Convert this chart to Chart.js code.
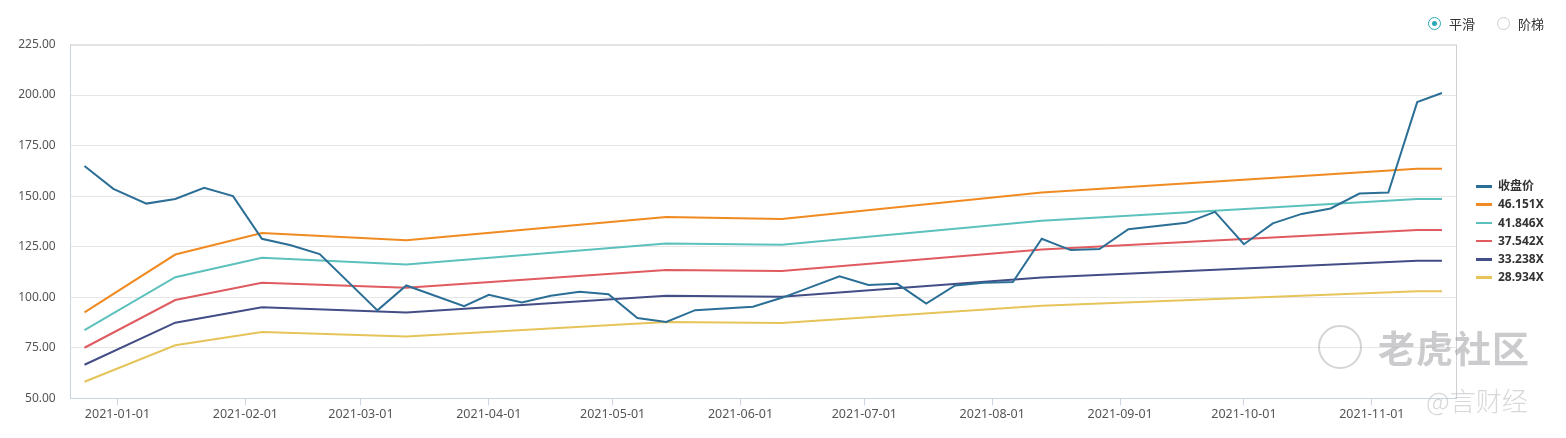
<!DOCTYPE html>
<html>
<head>
<meta charset="utf-8">
<script src="https://cdn.jsdelivr.net/npm/chart.js@4/dist/chart.umd.min.js"></script>
<style>
  html, body { margin: 0; padding: 0; background: #fff; }
  #wrap { position: relative; width: 1566px; height: 438px; overflow: hidden; font-family: "Noto Sans", "Noto Sans CJK SC", sans-serif; }
  #c { position: absolute; left: 0; top: 0; }
  .radio { position: absolute; top: 15px; font-size: 13px; color: #333; font-family: "Noto Sans CJK SC", sans-serif; line-height: 18px; }
  .radio .dot { position: absolute; top: 2px; left: 0; width: 11px; height: 11px; border-radius: 50%; border: 1.5px solid #ccc; background: #fff; }
  .radio.on .dot { border-color: #2aa8b6; }
  .radio.on .dot::after { content: ""; position: absolute; left: 3px; top: 3px; width: 5px; height: 5px; border-radius: 50%; background: #2aa8b6; }
  .radio span.t { position: absolute; left: 21px; top: 0; white-space: nowrap; }
  #legend { position: absolute; left: 1476px; top: 177px; font-family: "Noto Sans", "Noto Sans CJK SC", sans-serif; }
  #legend .row { position: relative; height: 18.3px; }
  #legend .sw { position: absolute; left: 0; top: 8px; width: 16px; height: 2.5px; }
  #legend .lb { position: absolute; left: 22px; top: 0; font-size: 12px; font-weight: bold; color: #333; white-space: nowrap; line-height: 18px; }
  .wm1 { position: absolute; left: 1378px; top: 322px; font-size: 37px; font-weight: bold; color: rgba(160,160,165,0.55); font-family: "Noto Sans CJK SC", sans-serif; letter-spacing: 1px; line-height: 50px; }
  .wmlogo { position: absolute; left: 1318px; top: 325px; width: 40px; height: 40px; border-radius: 50%; border: 2px solid rgba(170,170,175,0.5); }
  .wm2 { position: absolute; left: 1426px; top: 382px; font-size: 26px; color: rgba(190,190,195,0.6); font-family: "Noto Sans CJK SC", sans-serif; font-weight: 300; line-height: 36px; }
</style>
</head>
<body>
<div id="wrap">
  <canvas id="c" width="1566" height="438"></canvas>
  <div class="radio on" style="left:1428px;"><div class="dot"></div><span class="t">平滑</span></div>
  <div class="radio" style="left:1497px;"><div class="dot"></div><span class="t">阶梯</span></div>
  <div id="legend"></div>
  <div class="wmlogo"></div>
  <div class="wm1">老虎社区</div>
  <div class="wm2">@言财经</div>
</div>
<script>
// ---- data ----
const closeDates = ['2020-12-24','2020-12-31','2021-01-08','2021-01-15','2021-01-22','2021-01-29','2021-02-05','2021-02-12','2021-02-19','2021-03-05','2021-03-12','2021-03-26','2021-04-01','2021-04-09','2021-04-16','2021-04-23','2021-04-30','2021-05-07','2021-05-14','2021-05-21','2021-06-04','2021-06-11','2021-06-18','2021-06-25','2021-07-02','2021-07-09','2021-07-16','2021-07-23','2021-07-30','2021-08-06','2021-08-13','2021-08-20','2021-08-27','2021-09-03','2021-09-17','2021-09-24','2021-10-01','2021-10-08','2021-10-15','2021-10-22','2021-10-29','2021-11-05','2021-11-12','2021-11-18'];
const closeValues = [164.9,153.6,146.3,148.6,154.1,150.0,128.9,125.7,121.3,93.5,105.8,95.6,101.2,97.4,100.7,102.7,101.5,89.7,87.8,93.6,95.3,99.7,105.0,110.3,106.1,106.6,96.9,105.8,107.1,107.5,128.9,123.3,123.8,133.6,136.8,142.2,126.2,136.5,141.2,143.9,151.3,151.8,196.5,201.0];

const bandDates = ['2020-12-24','2021-01-15','2021-02-05','2021-03-12','2021-05-14','2021-06-11','2021-08-13','2021-11-12','2021-11-18'];
const pe46151 = [92.5,121.1,131.7,128.2,139.7,138.7,151.8,163.6,163.6];
const pe41846 = [83.7,109.9,119.5,116.2,126.6,126.0,137.8,148.6,148.6];
const pe37542 = [75.0,98.6,107.1,104.7,113.5,113.0,123.6,133.2,133.2];
const pe33238 = [66.6,87.4,95.0,92.5,100.7,100.2,109.8,118.0,118.0];
const pe28934 = [58.2,76.2,82.8,80.6,87.8,87.2,95.8,102.9,102.9];

const seriesNames = ['收盘价','46.151X','41.846X','37.542X','33.238X','28.934X'];
const seriesColors = ['#2c6f96','#f08b22','#5cc1bc','#df5b60','#434d86','#e6c45a'];
const xTickDates = ['2021-01-01','2021-02-01','2021-03-01','2021-04-01','2021-05-01','2021-06-01','2021-07-01','2021-08-01','2021-09-01','2021-10-01','2021-11-01'];
const yTicks = [50,75,100,125,150,175,200,225];
const xMinDate = '2020-12-20', xMaxDate = '2021-11-21';

// ---- helpers ----
const BASE = Date.UTC(2021,0,1);
function dayOf(s){ const p = s.split('-').map(Number); return (Date.UTC(p[0],p[1]-1,p[2]) - BASE)/86400000; }
function fmtDay(d){ const t = new Date(BASE + Math.round(d)*86400000); const m = String(t.getUTCMonth()+1).padStart(2,'0'); const dd = String(t.getUTCDate()).padStart(2,'0'); return t.getUTCFullYear()+'-'+m+'-'+dd; }
function pts(dates, vals){ return dates.map((d,i)=>({x: dayOf(d), y: vals[i]})); }

const seriesData = [pts(closeDates, closeValues), pts(bandDates, pe46151), pts(bandDates, pe41846), pts(bandDates, pe37542), pts(bandDates, pe33238), pts(bandDates, pe28934)];

const datasets = seriesNames.map((n,i)=>({
  label: n, data: seriesData[i], borderColor: seriesColors[i], backgroundColor: seriesColors[i],
  borderWidth: 2, pointRadius: 0, pointHoverRadius: 0, tension: 0, fill: false
}));

// legend
const lg = document.getElementById('legend');
seriesNames.forEach((n,i)=>{
  const r = document.createElement('div'); r.className='row';
  r.innerHTML = '<div class="sw" style="background:'+seriesColors[i]+'"></div><div class="lb">'+n+'</div>';
  lg.appendChild(r);
});

const boxPlugin = {
  id: 'box',
  afterDraw(chart){
    const a = chart.chartArea, ctx = chart.ctx;
    ctx.save();
    ctx.lineWidth = 1;
    ctx.strokeStyle = '#e2e2e2';
    ctx.beginPath(); ctx.moveTo(a.left, Math.round(a.top)+0.5); ctx.lineTo(a.right, Math.round(a.top)+0.5); ctx.stroke();
    ctx.strokeStyle = '#cfcfd4';
    ctx.beginPath(); ctx.moveTo(Math.round(a.right)+0.5, a.top); ctx.lineTo(Math.round(a.right)+0.5, a.bottom); ctx.stroke();
    ctx.restore();
  }
};

new Chart(document.getElementById('c'), {
  type: 'line',
  data: { datasets },
  plugins: [boxPlugin],
  options: {
    responsive: false, animation: false, devicePixelRatio: 1,
    layout: { padding: { left: 0, top: 44.5, right: 110, bottom: 0 } },
    plugins: { legend: { display: false }, tooltip: { enabled: false } },
    scales: {
      x: {
        type: 'linear', min: dayOf(xMinDate)+0.66, max: dayOf(xMaxDate)+0.4,
        afterBuildTicks(s){ s.ticks = xTickDates.map(d=>({value: dayOf(d)})); },
        afterFit(s){ s.height = 39.7; },
        ticks: { callback: v => fmtDay(v), color: '#555', font: { family: '"Noto Sans", sans-serif', size: 12.5 }, padding: 2, maxRotation: 0, autoSkip: false },
        grid: { drawOnChartArea: false, drawTicks: true, tickLength: 7, color: '#ccd3e0' },
        border: { display: true, color: '#ccd3e0', width: 1 }
      },
      y: {
        min: 50, max: 225,
        afterBuildTicks(s){ s.ticks = yTicks.map(v=>({value: v})); },
        afterFit(s){ s.width = 70.7; },
        ticks: { callback: v => Number(v).toFixed(2), color: '#555', font: { family: '"Noto Sans", sans-serif', size: 12 }, padding: 15 },
        grid: { color: '#e6e6e6', drawTicks: false },
        border: { display: true, color: '#ccd3e0', width: 1 }
      }
    }
  }
});
</script>
</body>
</html>
